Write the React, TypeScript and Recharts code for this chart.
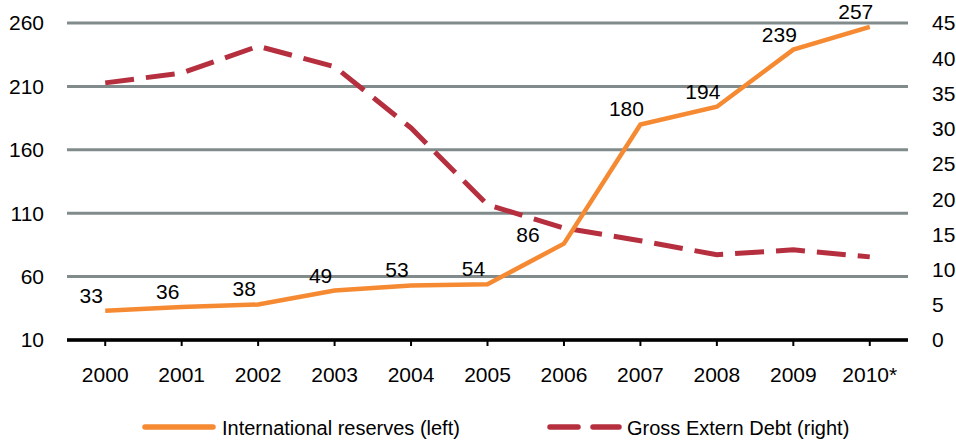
import React from 'react';
import { LineChart, Line, XAxis, YAxis, CartesianGrid, Legend, LabelList } from 'recharts';

const years = ['2000', '2001', '2002', '2003', '2004', '2005', '2006', '2007', '2008', '2009', '2010*'];
const reserves = [33, 36, 38, 49, 53, 54, 86, 180, 194, 239, 257];
const debt = [36.5, 37.9, 41.7, 38.8, 30.1, 19.2, 15.9, 14.1, 12.1, 12.8, 11.8];
const leftTicks = [10, 60, 110, 160, 210, 260];
const rightTicks = [0, 5, 10, 15, 20, 25, 30, 35, 40, 45];
const seriesNames = ['International reserves (left)', 'Gross Extern Debt (right)'];

const data = years.map((y, i) => ({ year: y, reserves: reserves[i], debt: debt[i] }));

const FONT = '"Liberation Sans", Arial, sans-serif';
const ORANGE = '#F58A33';
const RED = '#B52F3F';

const ValueLabel = (props: any) => {
  const { x, y, value, index } = props;
  // Move the label well left of the point when the line climbs steeply right after it
  const next = reserves[index + 1];
  const steep = next !== undefined && next > value * 1.8;
  const dx = steep ? -36 : -14;
  const dy = steep ? -2 : -8;
  return (
    <text x={x + dx} y={y + dy} textAnchor="middle" fontSize={21} fontFamily={FONT} fill="#000">
      {value}
    </text>
  );
};

const renderLegend = () => (
  <div style={{ position: 'relative', width: 956, height: 41 }}>
    <svg width={956} height={41} style={{ position: 'absolute', left: 0, top: 0 }}>
      <line x1={145} x2={213} y1={27} y2={27} stroke={ORANGE} strokeWidth={5.5} strokeLinecap="round" />
      <text x={222} y={34.5} fontSize={20} fontFamily={FONT} fill="#000">{seriesNames[0]}</text>
      <line x1={550} x2={619} y1={27} y2={27} stroke={RED} strokeWidth={5.5} strokeLinecap="round" strokeDasharray="28 15" />
      <text x={627} y={34.5} fontSize={20} fontFamily={FONT} fill="#000">{seriesNames[1]}</text>
    </svg>
  </div>
);

export default function App() {
  return (
    <div style={{ position: 'absolute', left: 0, top: 0, width: 956, height: 441, background: '#fff' }}>
      <LineChart width={956} height={441} data={data} margin={{ top: 23, right: 0, left: 0, bottom: 0 }}>
        <CartesianGrid yAxisId="left" vertical={false} stroke="#818B8B" strokeWidth={3} />
        <XAxis
          dataKey="year"
          scale="band"
          height={60}
          axisLine={{ stroke: '#000', strokeWidth: 3.5 }}
          tickLine={{ stroke: '#000', strokeWidth: 2 }}
          tickSize={6}
          tickMargin={21}
          tick={{ fill: '#000', fontSize: 21, fontFamily: FONT }}
          interval={0}
        />
        <YAxis
          yAxisId="left"
          orientation="left"
          width={67}
          domain={[10, 260]}
          ticks={leftTicks}
          axisLine={false}
          tickLine={false}
          tickSize={0}
          tickMargin={23}
          tick={{ fill: '#000', fontSize: 21, fontFamily: FONT }}
        />
        <YAxis
          yAxisId="right"
          orientation="right"
          width={48}
          domain={[0, 45]}
          ticks={rightTicks}
          axisLine={false}
          tickLine={false}
          tickSize={0}
          tickMargin={24}
          tick={{ fill: '#000', fontSize: 21, fontFamily: FONT, textAnchor: 'start' }}
        />
        <Legend verticalAlign="bottom" height={41} content={renderLegend} wrapperStyle={{ left: 0, width: 956 }} />
        <Line
          yAxisId="right"
          dataKey="debt"
          name={seriesNames[1]}
          stroke={RED}
          strokeWidth={5}
          strokeDasharray="29 12"
          dot={false}
          activeDot={false}
          isAnimationActive={false}
          type="linear"
        />
        <Line
          yAxisId="left"
          dataKey="reserves"
          name={seriesNames[0]}
          stroke={ORANGE}
          strokeWidth={4.5}
          dot={false}
          activeDot={false}
          isAnimationActive={false}
          type="linear"
        >
          <LabelList dataKey="reserves" content={ValueLabel} />
        </Line>
      </LineChart>
    </div>
  );
}
